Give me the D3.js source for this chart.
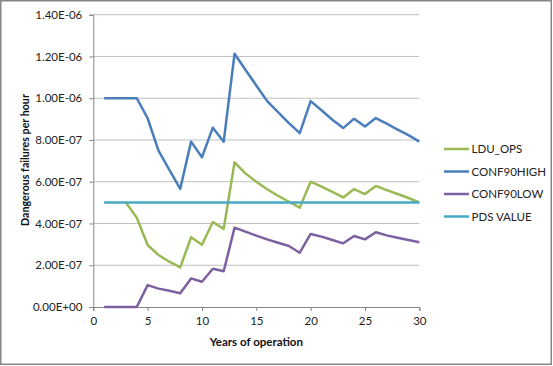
<!DOCTYPE html>
<html>
<head>
<meta charset="utf-8">
<script src="https://cdn.jsdelivr.net/npm/d3@7"></script>
<style>
  body { margin: 0; background: #fff; }
  svg { display: block; font-family: Lato, "Liberation Sans", sans-serif; }
</style>
</head>
<body>
<div id="chart"></div>
<script>
// years on x axis
const years = d3.range(1, 31);

// values in failures per hour (null = no point)
const lduOps = [null, null, 5.0e-7, 4.28e-7, 2.97e-7, 2.49e-7, 2.17e-7, 1.90e-7, 3.34e-7, 2.98e-7,
  4.07e-7, 3.74e-7, 6.93e-7, 6.40e-7, 6.00e-7, 5.64e-7, 5.33e-7, 5.04e-7, 4.76e-7, 6.00e-7,
  5.76e-7, 5.51e-7, 5.25e-7, 5.65e-7, 5.41e-7, 5.80e-7, 5.60e-7, 5.41e-7, 5.22e-7, 5.01e-7];
const conf90High = [1.0e-6, 1.0e-6, 1.0e-6, 1.0e-6, 9.04e-7, 7.49e-7, 6.57e-7, 5.66e-7, 7.92e-7, 7.17e-7,
  8.59e-7, 7.92e-7, 1.213e-6, 1.136e-6, 1.061e-6, 9.86e-7, 9.33e-7, 8.81e-7, 8.33e-7, 9.86e-7,
  9.42e-7, 8.97e-7, 8.57e-7, 9.02e-7, 8.65e-7, 9.05e-7, 8.78e-7, 8.50e-7, 8.23e-7, 7.92e-7];
const conf90Low = [0, 0, 0, 0, 1.05e-7, 8.8e-8, 7.8e-8, 6.6e-8, 1.37e-7, 1.21e-7,
  1.83e-7, 1.71e-7, 3.80e-7, 3.61e-7, 3.42e-7, 3.24e-7, 3.08e-7, 2.92e-7, 2.60e-7, 3.50e-7,
  3.37e-7, 3.21e-7, 3.05e-7, 3.40e-7, 3.24e-7, 3.58e-7, 3.43e-7, 3.32e-7, 3.21e-7, 3.10e-7];
const pdsValue = years.map(() => 5.0e-7);

const seriesNames = ["LDU_OPS", "CONF90HIGH", "CONF90LOW", "PDS VALUE"];
const seriesValues = [lduOps, conf90High, conf90Low, pdsValue];
const seriesColors = ["#98B954", "#4A7EBB", "#7D60A0", "#46AAC5"];

const yTicks = [0, 2e-7, 4e-7, 6e-7, 8e-7, 1.0e-6, 1.2e-6, 1.4e-6];
const xTicks = [0, 5, 10, 15, 20, 25, 30];

const W = 553, H = 366;
const plot = {left: 93.3, right: 419.3, top: 14.7, bottom: 307};

const svg = d3.select("#chart").append("svg")
    .attr("width", W)
    .attr("height", H);

// chart border
svg.append("rect")
    .attr("x", 0.75).attr("y", 0.75)
    .attr("width", 550.5).attr("height", 363.5)
    .attr("fill", "#fff")
    .attr("stroke", "#868686")
    .attr("stroke-width", 1.5);

const x = d3.scaleLinear().domain([0, 30]).range([plot.left, plot.right]);
const y = d3.scaleLinear().domain([0, 1.4e-6]).range([plot.bottom, plot.top]);

// gridlines
svg.append("g")
    .selectAll("line")
    .data(yTicks.slice(1))
    .join("line")
    .attr("x1", plot.left).attr("x2", plot.right)
    .attr("y1", d => y(d)).attr("y2", d => y(d))
    .attr("stroke", "#c0c0c0")
    .attr("stroke-width", 1);

// y axis
const fmtY = d => {
    if (d === 0) return "0.00E+00";
    const e = Math.floor(Math.log10(d) + 1e-9);
    const m = d / Math.pow(10, e);
    const sign = e < 0 ? "-" : "+";
    return m.toFixed(2) + "E" + sign + String(Math.abs(e)).padStart(2, "0");
};

const yAxis = svg.append("g")
    .attr("transform", `translate(${plot.left},0)`)
    .call(d3.axisLeft(y).tickValues(yTicks).tickFormat(fmtY).tickSize(4).tickPadding(7));

const xAxis = svg.append("g")
    .attr("transform", `translate(0,${plot.bottom})`)
    .call(d3.axisBottom(x).tickValues(xTicks).tickSize(4).tickPadding(6));

[yAxis, xAxis].forEach(ax => {
    ax.select(".domain").attr("stroke", "#868686");
    ax.selectAll(".tick line").attr("stroke", "#868686");
    ax.selectAll("text")
        .attr("fill", "#222")
        .style("font-family", "Lato, 'Liberation Sans', sans-serif")
        .style("font-size", "11.5px");
});

// axis titles
svg.append("text")
    .attr("transform", "translate(29,160) rotate(-90)")
    .attr("text-anchor", "middle")
    .attr("font-size", "10.7px")
    .attr("font-weight", "bold")
    .attr("fill", "#111")
    .text("Dangerous failures per hour");

svg.append("text")
    .attr("x", 256.3)
    .attr("y", 346)
    .attr("text-anchor", "middle")
    .attr("font-size", "11.5px")
    .attr("font-weight", "bold")
    .attr("fill", "#111")
    .text("Years of operation");

// lines
const line = d3.line()
    .defined(d => d[1] !== null)
    .x(d => x(d[0]))
    .y(d => y(d[1]));

svg.append("g")
    .selectAll("path")
    .data(seriesValues)
    .join("path")
    .attr("d", vals => line(years.map((yr, i) => [yr, vals[i]])))
    .attr("fill", "none")
    .attr("stroke", (d, i) => seriesColors[i])
    .attr("stroke-width", 2.5)
    .attr("stroke-linejoin", "round");

// legend
const legend = svg.append("g")
    .selectAll("g")
    .data(seriesNames)
    .join("g")
    .attr("transform", (d, i) => `translate(444,${149 + i * 22.5})`);

legend.append("line")
    .attr("x1", 0).attr("x2", 25)
    .attr("stroke", (d, i) => seriesColors[i])
    .attr("stroke-width", 2.5);

legend.append("text")
    .attr("x", 27.5)
    .attr("dy", "0.35em")
    .attr("font-size", "11.5px")
    .attr("fill", "#222")
    .text(d => d);
</script>
</body>
</html>
